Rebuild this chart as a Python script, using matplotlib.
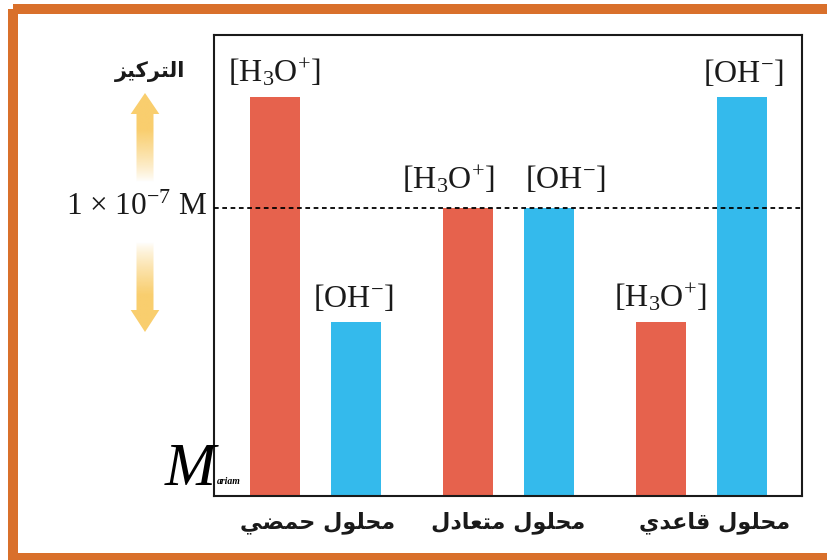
import numpy as np
import matplotlib
matplotlib.use("Agg")
import matplotlib.pyplot as plt
from matplotlib.patches import Rectangle, Polygon
from matplotlib.transforms import blended_transform_factory

# ---- data (concentrations relative to 1e-7 M) ----
solutions = ["محلول حمضي", "محلول متعادل", "محلول قاعدي"]
h3o = [1.385, 1.0, 0.604]
oh = [0.604, 1.0, 1.385]
h3o_label = r"[H$_3$O$^{+}$]"
oh_label = r"[OH$^{-}$]"
ref_level = 1.0
ref_label = r"1 × 10$^{-7}$ M"
y_title = "التركيز"
signature = ("M", "ariam")

RED = "#E6624D"
BLUE = "#34BAEC"
ORANGE = "#D9702B"
GOLD = (249 / 255, 206 / 255, 110 / 255)
INK = "#1a1a1a"

plt.rcParams["mathtext.fontset"] = "custom"
plt.rcParams["mathtext.rm"] = "Liberation Serif"
plt.rcParams["mathtext.it"] = "Liberation Serif:italic"
plt.rcParams["font.family"] = ["Liberation Serif", "DejaVu Sans"]

# arabic presentation forms: isolated, final, initial, medial
FORMS = {
    "ا": ("\uFE8D", "\uFE8E", None, None),
    "ت": ("\uFE95", "\uFE96", "\uFE97", "\uFE98"),
    "ح": ("\uFEA1", "\uFEA2", "\uFEA3", "\uFEA4"),
    "د": ("\uFEA9", "\uFEAA", None, None),
    "ر": ("\uFEAD", "\uFEAE", None, None),
    "ز": ("\uFEAF", "\uFEB0", None, None),
    "ض": ("\uFEBD", "\uFEBE", "\uFEBF", "\uFEC0"),
    "ع": ("\uFEC9", "\uFECA", "\uFECB", "\uFECC"),
    "ق": ("\uFED5", "\uFED6", "\uFED7", "\uFED8"),
    "ك": ("\uFED9", "\uFEDA", "\uFEDB", "\uFEDC"),
    "ل": ("\uFEDD", "\uFEDE", "\uFEDF", "\uFEE0"),
    "م": ("\uFEE1", "\uFEE2", "\uFEE3", "\uFEE4"),
    "و": ("\uFEED", "\uFEEE", None, None),
    "ي": ("\uFEF1", "\uFEF2", "\uFEF3", "\uFEF4"),
}


def shape_ar(text):
    """join arabic letters and put them in visual (left to right) order"""
    out = []
    for i, c in enumerate(text):
        if c not in FORMS:
            out.append(c)
            continue
        iso, fin, ini, med = FORMS[c]
        prev = text[i - 1] if i > 0 else None
        nxt = text[i + 1] if i + 1 < len(text) else None
        join_prev = prev in FORMS and FORMS[prev][2] is not None
        join_next = ini is not None and nxt in FORMS
        if join_prev and join_next:
            out.append(med)
        elif join_prev:
            out.append(fin)
        elif join_next:
            out.append(ini)
        else:
            out.append(iso)
    return "".join(reversed(out))


W, H = 828, 560
fig = plt.figure(figsize=(W / 100, H / 100), dpi=100)
fig.patch.set_facecolor("white")

# ---- main chart ----
ax = fig.add_axes([214 / W, 64 / H, 588 / W, 461 / H])
x = np.arange(len(solutions))
off, bw = 0.21, 0.259
ax.bar(x - off, h3o, bw, color=RED, zorder=2)
ax.bar(x + off, oh, bw, color=BLUE, zorder=2)
ax.axhline(ref_level, color="black", lw=1.3, ls=(0, (2.6, 2.0)), zorder=3)

# label nudges (points): middle pair is spread apart so they don't touch
h3o_dx = [0, -14, 0]
oh_dx = [-2, 12, 1]
dy = [11, 14, 11]
for xi, v, dx, d in zip(x - off, h3o, h3o_dx, dy):
    ax.annotate(h3o_label, (xi, v), xytext=(dx, d), textcoords="offset points",
                ha="center", va="baseline", fontsize=23, color=INK)
for xi, v, dx, d in zip(x + off, oh, oh_dx, dy):
    ax.annotate(oh_label, (xi, v), xytext=(dx, d), textcoords="offset points",
                ha="center", va="baseline", fontsize=23, color=INK)

ax.set_xlim(-0.526, 2.521)
ax.set_ylim(0, 1.6)
ax.set_yticks([])
ax.set_xticks([0.01, 1.0, 2.07])
ax.set_xticklabels([shape_ar(s) for s in solutions], family=["DejaVu Sans"],
                   fontweight="bold", fontsize=16, color=INK)
ax.tick_params(axis="x", length=0, pad=11)
for s in ax.spines.values():
    s.set_linewidth(1.5)
    s.set_color(INK)

trans = blended_transform_factory(ax.transAxes, ax.transData)
ax.text(-0.012, ref_level, ref_label, transform=trans, ha="right", va="center",
        fontsize=22.5, color=INK)

# ---- decorations in pixel coords (frame, arrows, signature) ----
deco = fig.add_axes([0, 0, 1, 1], facecolor="none")
deco.set_xlim(0, W)
deco.set_ylim(H, 0)
deco.axis("off")

deco.add_patch(Rectangle((13, 8.5), 840, 549, fill=False, ec=ORANGE,
                         lw=7.2, clip_on=False))

deco.text(150, 71, shape_ar(y_title), family=["DejaVu Sans"], fontweight="bold",
          fontsize=15, ha="center", va="center", color=INK)


def fade_arrow(cx, tip, base, tail):
    """vertical block arrow, gold at the tip fading to white at the tail"""
    pts = [(cx - 8.5, tail), (cx - 8.5, base), (cx - 14.3, base), (cx, tip),
           (cx + 14.3, base), (cx + 8.5, base), (cx + 8.5, tail)]
    poly = Polygon(pts, closed=True, fc="none", ec="none")
    deco.add_patch(poly)
    n = 100
    alpha = np.clip(np.linspace(0, 1.7, n), 0, 1) ** 0.8
    img = np.zeros((n, 1, 4))
    img[:, 0, :3] = GOLD
    img[:, 0, 3] = alpha
    im = deco.imshow(img, extent=[cx - 15, cx + 15, tail, tip], origin="lower",
                     aspect="auto", interpolation="bilinear")
    im.set_clip_path(poly)


fade_arrow(145, 93, 114, 182)
fade_arrow(145, 332, 310, 242)

deco.text(190, 470, signature[0], family="Liberation Serif", style="italic",
          fontsize=44, ha="center", va="center", color="black")
deco.text(229, 481, signature[1], family="Liberation Serif", style="italic",
          fontweight="bold", fontsize=7, ha="center", va="center", color="black")

deco.set_xlim(0, W)
deco.set_ylim(H, 0)

fig.savefig("out.png", dpi=100)
